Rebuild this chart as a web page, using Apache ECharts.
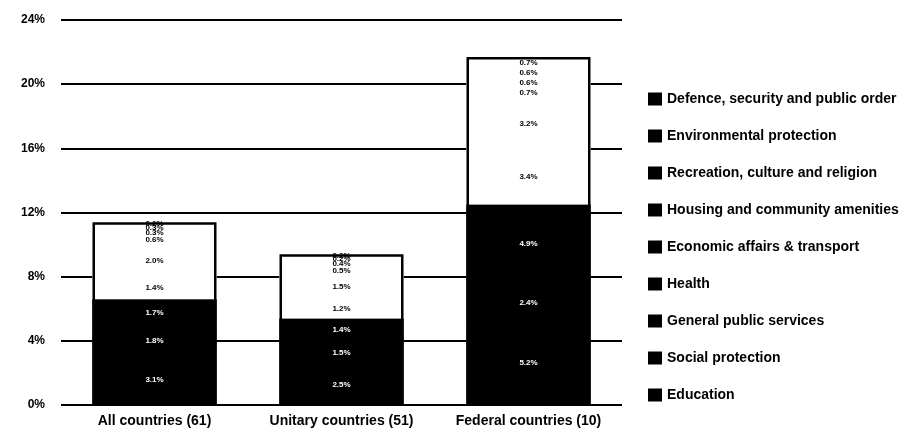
<!DOCTYPE html>
<html>
<head>
<meta charset="utf-8">
<script src="https://cdn.jsdelivr.net/npm/echarts@6/dist/echarts.min.js"></script>
<style>
  html, body { margin: 0; padding: 0; background: #fff; }
  #chart { width: 904px; height: 437px; }
</style>
</head>
<body>
<div id="chart"></div>
<script>
const categories = ['All countries (61)', 'Unitary countries (51)', 'Federal countries (10)']

// % of GDP, bottom of stack first
const education = [3.1, 2.5, 5.2]
const socialProtection = [1.8, 1.5, 2.4]
const generalServices = [1.7, 1.4, 4.9]
const health = [1.4, 1.2, 3.4]
const economicAffairs = [2.0, 1.5, 3.2]
const housing = [0.6, 0.5, 0.7]
const recreation = [0.3, 0.4, 0.6]
const environment = [0.3, 0.2, 0.6]
const defence = [0.2, 0.2, 0.7]

const yTicks = [0, 4, 8, 12, 16, 20, 24]

const seriesList = [
    { name: 'Education', data: education, dark: true },
    { name: 'Social protection', data: socialProtection, dark: true },
    { name: 'General public services', data: generalServices, dark: true },
    { name: 'Health', data: health },
    { name: 'Economic affairs & transport', data: economicAffairs },
    { name: 'Housing and community amenities', data: housing },
    { name: 'Recreation, culture and religion', data: recreation },
    { name: 'Environmental protection', data: environment },
    { name: 'Defence, security and public order', data: defence }
]

const sumOf = list => categories.map((c, i) => +list.reduce((s, d) => s + d.data[i], 0).toFixed(1))
const totals = sumOf(seriesList)
const darkTotals = sumOf(seriesList.filter(s => s.dark))

const FONT = '"Liberation Sans", Arial, sans-serif'
const BAR_W = 124

const chart = echarts.init(document.getElementById('chart'))

// backing bars in the segment colours so the seams between segments don't show
const backing = (name, data, color, z) => ({
    name: name,
    type: 'bar',
    barWidth: BAR_W,
    barGap: '-100%',
    data: data,
    silent: true,
    itemStyle: { color: color },
    label: { show: false },
    z: z
})

const series = [
    backing('back-light', totals, '#fff', 1),
    backing('back-dark', darkTotals, '#000', 1.5)
]

seriesList.forEach(s => {
    const fill = s.dark ? '#000' : '#fff'
    series.push({
        name: s.name,
        type: 'bar',
        stack: 'total',
        barWidth: BAR_W,
        barGap: '-100%',
        data: s.data,
        itemStyle: { color: fill },
        label: {
            show: true,
            position: 'inside',
            fontFamily: FONT,
            fontSize: 8,
            fontWeight: 'bold',
            color: s.dark ? '#fff' : '#000',
            formatter: p => p.value.toFixed(1) + '%'
        },
        z: 2
    })
})

// outline round the whole stack
series.push({
    name: 'outline',
    type: 'bar',
    barWidth: BAR_W,
    barGap: '-100%',
    data: totals,
    silent: true,
    itemStyle: { color: 'rgba(0,0,0,0)', borderColor: '#000', borderWidth: 2.5 },
    label: { show: false },
    z: 3
})

chart.setOption({
    animation: false,
    backgroundColor: '#fff',
    grid: { left: 61, right: 282, top: 20, bottom: 32 },
    legend: {
        orient: 'vertical',
        left: 643,
        top: 87,
        icon: 'rect',
        itemWidth: 14,
        itemHeight: 13,
        itemGap: 23,
        selectedMode: false,
        textStyle: { fontFamily: FONT, fontSize: 14, fontWeight: 'bold', color: '#000' },
        data: seriesList.slice().reverse().map(s => ({ name: s.name, itemStyle: { color: '#000', borderWidth: 0 } }))
    },
    xAxis: {
        type: 'category',
        data: categories,
        axisLine: { show: false },
        axisTick: { show: false },
        axisLabel: { interval: 0, fontFamily: FONT, fontSize: 14, fontWeight: 'bold', color: '#000', margin: 9 }
    },
    yAxis: {
        type: 'value',
        min: yTicks[0],
        max: yTicks[yTicks.length - 1],
        interval: 4,
        axisLine: { show: false },
        axisTick: { show: false },
        splitLine: { lineStyle: { color: '#000', width: 2 } },
        axisLabel: { fontFamily: FONT, fontSize: 12, fontWeight: 'bold', color: '#000', margin: 16, formatter: '{value}%' }
    },
    series: series
})
</script>
</body>
</html>
